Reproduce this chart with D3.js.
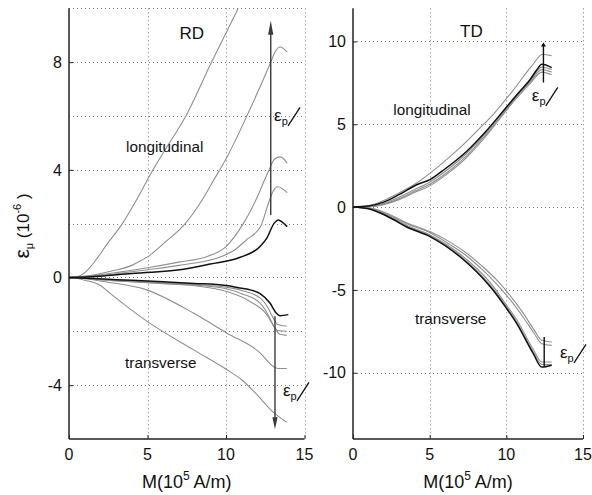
<!DOCTYPE html>
<html>
<head>
<meta charset="utf-8">
<script src="https://cdn.jsdelivr.net/npm/d3@7"></script>
<style>
  body { margin: 0; background: #fff; }
  svg { display: block; }
  text { font-family: "Liberation Sans", Arial, Helvetica, sans-serif; fill: #111; }
</style>
</head>
<body>
<svg id="chart" width="592" height="495"></svg>
<script>
// ---- magnetostriction curves, field M in 1e5 A/m, strain in 1e-6 ----

// RD, longitudinal: grey curves (increasing prestrain) and the reference curve
const rdLongGrey = [
  [[0,0],[0.6,0.04],[1.2,0.28],[1.8,0.72],[2.4,1.22],[3.4,2.0],[4.3,2.88],[5.35,4.0],[6.4,5.0],[7.4,5.95],[9,7.9],[10.78,10.0]],
  [[0,0],[1,0.04],[1.8,0.12],[2.8,0.25],[4,0.45],[4.5,0.6],[5.2,0.85],[6,1.25],[7.4,2.0],[8.5,2.9],[9.2,3.6],[10.06,4.47],[11.4,6.09],[12.8,7.93],[13.1,8.35],[13.44,8.56],[13.9,8.37]],
  [[0,0],[1,0.04],[2,0.1],[3,0.18],[5,0.36],[7,0.57],[8.8,0.78],[10,1.15],[11.1,2.0],[12.0,3.0],[12.7,3.95],[13.1,4.4],[13.45,4.48],[13.9,4.25]],
  [[0,0],[2,0.08],[5,0.29],[7,0.45],[9.8,0.8],[10.5,1.0],[11.3,1.4],[12.2,1.89],[12.7,2.75],[13.0,3.2],[13.3,3.37],[13.9,3.15]]
];
const rdLongRef = [[0,0],[2,0.05],[4,0.15],[5.16,0.19],[7.3,0.31],[9,0.5],[10.9,0.75],[12.17,1.15],[12.6,1.46],[13.06,2.01],[13.33,2.14],[13.6,2.05],[13.9,1.89]];

// RD, transverse
const rdTransGrey = [
  [[0,0],[0.5,-0.03],[1,-0.1],[2,-0.3],[2.6,-0.58],[4.95,-1.62],[7.92,-2.68],[10.04,-3.42],[11.0,-3.8],[11.85,-4.28],[13.1,-5.05],[13.87,-5.38]],
  [[0,0],[1,-0.04],[2.19,-0.15],[4.95,-0.46],[7.92,-1.32],[10.04,-2.06],[12.17,-2.8],[13.0,-3.3],[13.3,-3.38],[13.87,-3.38]],
  [[0,0],[3,-0.1],[6,-0.2],[8,-0.26],[10,-0.36],[11,-0.48],[12.17,-0.76],[12.6,-1.05],[13.0,-1.5],[13.3,-1.75],[13.87,-1.81]],
  [[0,0],[3,-0.12],[6,-0.22],[8,-0.28],[10,-0.42],[11,-0.6],[12.17,-0.95],[12.6,-1.3],[13.0,-1.75],[13.3,-1.97],[13.87,-2.0]],
  [[0,0],[3,-0.13],[6,-0.23],[7.92,-0.3],[10.04,-0.52],[11.53,-0.89],[12.6,-1.38],[13.1,-1.87],[13.4,-2.1],[13.87,-2.15]]
];
const rdTransRef = [[0,0],[3,-0.08],[6,-0.16],[8,-0.22],[10,-0.3],[10.9,-0.39],[11.6,-0.47],[12.17,-0.6],[12.8,-0.95],[13.2,-1.32],[13.44,-1.42],[13.97,-1.38]];

// TD, longitudinal
const tdLongGrey = [
  [[0,0],[1,0.08],[2,0.4],[3,0.85],[4.15,1.45],[5.5,2.4],[7,3.6],[8.2,4.7],[9.15,5.6],[10.4,7.0],[11.66,8.52],[12.37,9.23],[12.96,9.13]],
  [[0,0],[1,0.04],[2,0.22],[3,0.6],[4,1.05],[5,1.5],[6,2.15],[7.42,3.25],[8.6,4.4],[9.8,5.75],[10.7,6.75],[11.55,7.6],[12.31,8.45],[12.96,8.3]],
  [[0,0],[1,0.03],[2,0.18],[3,0.5],[4,0.95],[5,1.38],[6,2.0],[7.42,3.1],[8.6,4.3],[9.8,5.65],[10.7,6.7],[11.55,7.55],[12.31,8.3],[12.96,8.15]],
  [[0,0],[1,0.02],[2,0.15],[3,0.45],[4,0.88],[5,1.28],[6,1.9],[7.42,3.0],[8.6,4.2],[9.8,5.6],[10.7,6.6],[11.55,7.45],[12.31,8.15],[12.96,8.0]]
];
const tdLongRef = [[0,0],[1,0.06],[2,0.3],[3,0.75],[4.15,1.35],[5.02,1.66],[6,2.3],[7.42,3.37],[8.6,4.5],[9.8,5.8],[10.7,6.8],[11.55,7.7],[12.0,8.3],[12.31,8.62],[12.96,8.42]];

// TD, transverse
const tdTransGrey = [
  [[0,0],[1,-0.05],[2,-0.3],[2.63,-0.55],[3.5,-0.95],[5.02,-1.48],[6.3,-2.1],[7.42,-2.79],[8.4,-3.55],[9.37,-4.4],[10.3,-5.4],[11.1,-6.4],[11.8,-7.4],[12.31,-8.04],[12.96,-8.14]],
  [[0,0],[1,-0.06],[2,-0.35],[2.63,-0.62],[3.5,-1.0],[5.02,-1.55],[6.3,-2.25],[7.42,-2.95],[8.4,-3.75],[9.37,-4.65],[10.3,-5.65],[11.1,-6.65],[11.8,-7.6],[12.31,-8.25],[12.96,-8.35]],
  [[0,0],[1,-0.08],[2,-0.4],[2.63,-0.68],[3.5,-1.1],[5.02,-1.68],[7,-2.85],[8.94,-4.55],[10.0,-5.9],[10.68,-6.8],[11.76,-8.6],[12.31,-9.35],[12.96,-9.35]],
  [[0,0],[1,-0.09],[2,-0.42],[2.63,-0.72],[3.5,-1.15],[5.02,-1.72],[7,-2.95],[8.94,-4.7],[10.0,-6.0],[10.68,-6.95],[11.76,-8.75],[12.31,-9.5],[12.96,-9.5]]
];
const tdTransRef = [[0,0],[1,-0.1],[2,-0.45],[2.63,-0.75],[3.5,-1.2],[5.02,-1.78],[6.98,-3.0],[8.94,-4.8],[10.0,-6.1],[10.68,-7.03],[11.76,-8.85],[12.31,-9.66],[12.96,-9.55]];

// axes
const xTicks = [0, 5, 10, 15];
const xGrid = [5, 10, 15];
const rdYDomain = [-6, 10];
const rdYTicks = [-4, 0, 4, 8];
const rdYGrid = [-4, -2, 0, 2, 4, 6, 8, 10];
const tdYDomain = [-14, 12];
const tdYTicks = [-10, -5, 0, 5, 10];
const tdYGrid = [-10, -5, 0, 5, 10];

// prestrain direction markers: [M, strain from, strain to]
const rdArrows = [[12.85, 2.32, 9.54], [13.12, -1.44, -5.64]];
const tdArrows = [[12.42, 7.52, 9.94], [12.47, -7.84, -9.66]];

const svg = d3.select("#chart");
const plotTop = 8.3, plotBottom = 439;

function panel(opt) {
  const x = d3.scaleLinear().domain([0, 15]).range(opt.xRange);
  const y = d3.scaleLinear().domain(opt.yDomain).range([plotBottom, plotTop]);
  const g = svg.append("g");

  const clipId = "clip-" + opt.title;
  svg.append("clipPath").attr("id", clipId).append("rect")
    .attr("x", opt.xRange[0]).attr("y", plotTop)
    .attr("width", opt.xRange[1] - opt.xRange[0]).attr("height", plotBottom - plotTop);

  // dotted grid
  const grid = g.append("g").attr("stroke", "#7a7a7a").attr("stroke-width", 1)
    .attr("stroke-dasharray", "1,3").attr("fill", "none");
  opt.yGrid.forEach(v => grid.append("line")
    .attr("x1", opt.xRange[0]).attr("x2", opt.xRange[1])
    .attr("y1", Math.round(y(v)) + 0.5).attr("y2", Math.round(y(v)) + 0.5));
  xGrid.forEach(v => grid.append("line")
    .attr("x1", Math.round(x(v)) + 0.5).attr("x2", Math.round(x(v)) + 0.5)
    .attr("y1", plotTop).attr("y2", plotBottom));

  // axes with inward ticks
  const xAxis = d3.axisTop(x).tickValues(xTicks).tickSize(4).tickFormat("");
  const yAxis = d3.axisRight(y).tickValues(opt.yTicks).tickSize(4).tickFormat("");
  g.append("g").attr("transform", `translate(0,${plotBottom})`).call(xAxis)
    .call(s => s.select(".domain").remove())
    .selectAll("line").attr("stroke", "#222");
  g.append("g").attr("transform", `translate(${opt.xRange[0]},0)`).call(yAxis)
    .call(s => s.select(".domain").remove())
    .selectAll("line").attr("stroke", "#222");
  g.append("line").attr("x1", opt.xRange[0]).attr("x2", opt.xRange[1])
    .attr("y1", plotBottom).attr("y2", plotBottom).attr("stroke", "#222").attr("stroke-width", 1.5);
  g.append("line").attr("x1", opt.xRange[0]).attr("x2", opt.xRange[0])
    .attr("y1", plotTop).attr("y2", plotBottom).attr("stroke", "#222").attr("stroke-width", 1.5);

  // tick labels
  g.selectAll(".xl").data(xTicks).join("text")
    .attr("x", d => x(d)).attr("y", plotBottom + 21)
    .attr("text-anchor", "middle").attr("font-size", 16).text(d => d);
  g.selectAll(".yl").data(opt.yTicks).join("text")
    .attr("x", opt.xRange[0] - 7).attr("y", d => y(d)).attr("dy", "0.36em")
    .attr("text-anchor", "end").attr("font-size", 16).text(d => d);

  // x axis title
  const xt = g.append("text").attr("x", (opt.xRange[0] + opt.xRange[1]) / 2).attr("y", 488)
    .attr("text-anchor", "middle").attr("font-size", 18);
  xt.append("tspan").text("M(10");
  xt.append("tspan").attr("font-size", 12).attr("dy", -8).text("5");
  xt.append("tspan").attr("dy", 8).text(" A/m)");

  // curves
  const line = d3.line().x(d => x(d[0])).y(d => y(d[1])).curve(d3.curveMonotoneX);
  const curves = g.append("g").attr("clip-path", `url(#${clipId})`).attr("fill", "none");
  opt.grey.forEach(c => curves.append("path").attr("d", line(c))
    .attr("stroke", "#8f8f8f").attr("stroke-width", 1.1));
  opt.ref.forEach(c => curves.append("path").attr("d", line(c))
    .attr("stroke", "#111").attr("stroke-width", 1.5));

  // prestrain arrows
  opt.arrows.forEach(([m, a, b], i) => {
    const px = x(m), y0 = y(a), y1 = y(b);
    const dir = y1 < y0 ? 1 : -1;
    const head = opt.headLen[i];
    g.append("line").attr("x1", px).attr("x2", px).attr("y1", y0).attr("y2", y1 + dir * head * 0.6)
      .attr("stroke", opt.arrowColor).attr("stroke-width", 1.4);
    if (head > 0) {
      g.append("path")
        .attr("d", `M${px},${y1} L${px - 2.6},${y1 + dir * head} L${px + 2.6},${y1 + dir * head} Z`)
        .attr("fill", opt.arrowColor);
    }
  });

  // prestrain labels: epsilon_p followed by a rising stroke
  opt.epsLabels.forEach(([m, v]) => {
    const lg = g.append("g").attr("transform", `translate(${x(m)},${y(v)})`);
    const t = lg.append("text").attr("font-size", 17);
    t.append("tspan").text("ε");
    t.append("tspan").attr("font-size", 11).attr("dy", 4).text("p");
    lg.append("line").attr("x1", 14).attr("y1", 4.5).attr("x2", 26).attr("y2", -14)
      .attr("stroke", "#111").attr("stroke-width", 1.3);
  });

  // titles and annotations
  g.append("text").attr("x", x(opt.titleAt[0])).attr("y", y(opt.titleAt[1]))
    .attr("text-anchor", "middle").attr("font-size", 17).text(opt.title);
  g.append("text").attr("x", x(opt.longAt[0])).attr("y", y(opt.longAt[1]))
    .attr("font-size", 15.3).text("longitudinal");
  g.append("text").attr("x", x(opt.transAt[0])).attr("y", y(opt.transAt[1]))
    .attr("font-size", 15.3).text("transverse");
}

panel({
  title: "RD", xRange: [69, 304.5], yDomain: rdYDomain, yTicks: rdYTicks, yGrid: rdYGrid,
  grey: rdLongGrey.concat(rdTransGrey), ref: [rdLongRef, rdTransRef],
  arrows: rdArrows, headLen: [14, 12], arrowColor: "#3a3a3a",
  epsLabels: [[13.06, 5.8], [13.63, -4.42]],
  titleAt: [7.82, 8.87], longAt: [3.63, 4.67], transAt: [3.57, -3.38]
});
panel({
  title: "TD", xRange: [353, 583], yDomain: tdYDomain, yTicks: tdYTicks, yGrid: tdYGrid,
  grey: tdLongGrey.concat(tdTransGrey), ref: [tdLongRef, tdTransRef],
  arrows: tdArrows, headLen: [4, 0], arrowColor: "#111",
  epsLabels: [[11.66, 6.38], [13.5, -9.13]],
  titleAt: [7.72, 10.24], longAt: [2.63, 5.53], transAt: [4.04, -7.07]
});

// shared y axis title
const yt = svg.append("text").attr("transform", "translate(29,226) rotate(-90)")
  .attr("text-anchor", "middle").attr("font-size", 17);
yt.append("tspan").attr("font-size", 21).text("ε");
yt.append("tspan").attr("font-size", 11).attr("dy", 4).text("μ");
yt.append("tspan").attr("dy", -4).text(" (10");
yt.append("tspan").attr("font-size", 11).attr("dy", -8).text("-6");
yt.append("tspan").attr("dy", 8).text(" )");
</script>
</body>
</html>
